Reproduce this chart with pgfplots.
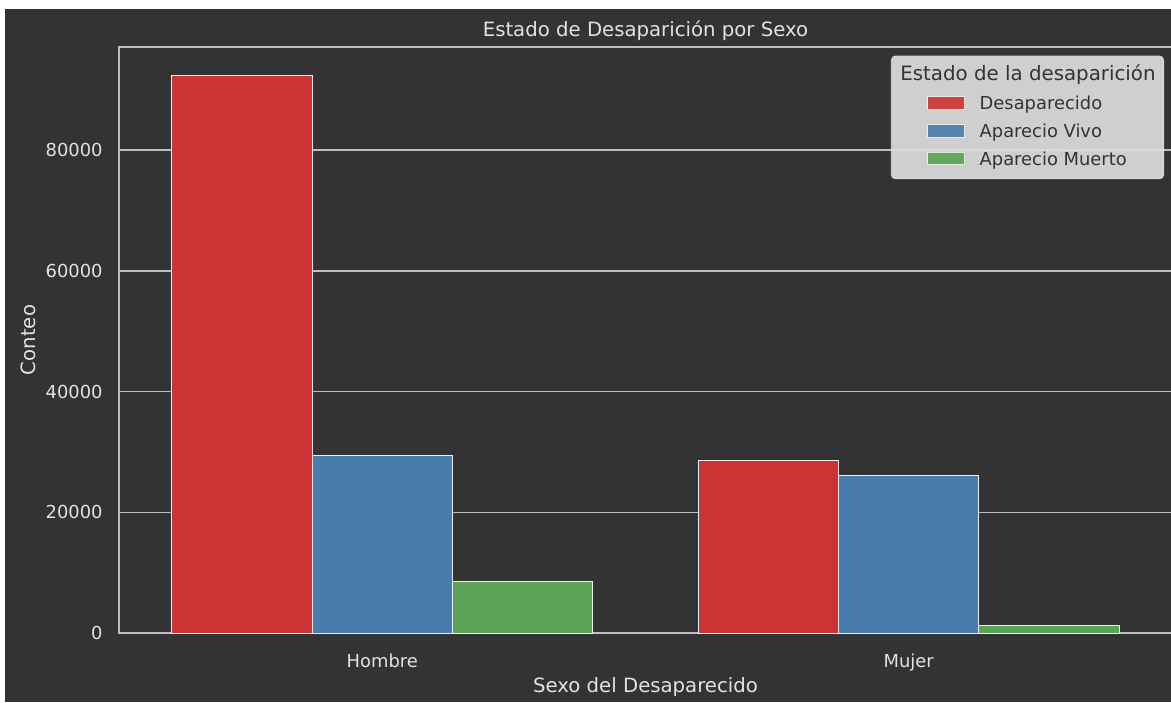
\documentclass[border=0pt]{standalone}
\usepackage{pgfplots}
\pgfplotsset{compat=1.18}
\usepackage{fontspec}
\setmainfont{DejaVu Sans}
\definecolor{bg}{HTML}{333333}
\definecolor{fg}{HTML}{E2E2E2}
\definecolor{gridc}{HTML}{BEBEBE}
\definecolor{edgec}{HTML}{EEEEEE}
\definecolor{cred}{HTML}{CD3334}
\definecolor{cblue}{HTML}{487CAA}
\definecolor{cgreen}{HTML}{5BA457}
\definecolor{legbg}{HTML}{E0E0E0}
\definecolor{legtext}{HTML}{333333}
\pgfplotsset{
  mylegend/.style={legend image code/.code={
    \path (-13.85pt,0pt);
    \draw[##1, draw=edgec, line width=0.5pt, sharp corners] (0pt,-3.175pt) rectangle (18.65pt,3.175pt);
  }}
}
\pgfplotstableread{
x   des     vivo    muerto
0   92400   29400   8500
1   28570   26030   1210
}\datatable
\begin{document}
\begin{tikzpicture}
\fill[white] (0pt,0pt) rectangle (585.5pt,351pt);
\fill[bg] (2.5pt,0pt) rectangle (585.5pt,346.5pt);
\begin{scope}
\clip (2.5pt,0pt) rectangle (585.5pt,346.5pt);
\begin{axis}[
  at={(59.5pt,34.5pt)}, anchor=south west,
  scale only axis, width=526.5pt, height=293pt,
  xmin=-0.5, xmax=1.5, ymin=0, ymax=97100,
  axis line style={gridc, line width=0.8pt},
  ymajorgrids, grid style={gridc, line width=0.8pt},
  major tick length=0pt,
  xtick={0,1}, xticklabels={Hombre,Mujer},
  ytick={0,20000,40000,60000,80000},
  scaled y ticks=false,
  /pgf/number format/1000 sep={},
  /pgf/number format/assume math mode=true,
  tick label style={font=\fontsize{8.95}{10}\selectfont, text=fg},
  yticklabel style={anchor=east, inner sep=0pt, xshift=-8pt},
  xticklabel style={anchor=base, inner sep=0pt, yshift=-17pt},
  every axis title shift=0pt,
  title={Estado de Desaparición por Sexo},
  title style={at={(axis description cs:0.5,1)}, anchor=base, inner sep=0pt, yshift=5.5pt, font=\fontsize{9.85}{12}\selectfont, text=fg},
  xlabel={Sexo del Desaparecido},
  xlabel style={at={(axis description cs:0.5,0)}, anchor=base, inner sep=0pt, yshift=-29.5pt, font=\fontsize{9.85}{12}\selectfont, text=fg},
  ylabel={Conteo},
  ylabel style={at={([xshift=-42pt]axis description cs:0,0.5)}, anchor=base, rotate=0, inner sep=0pt, font=\fontsize{9.85}{12}\selectfont, text=fg},
  legend cell align=left,
  legend style={at={(0.9924,0.9852)}, anchor=north east,
    draw=legbg, fill=legbg, fill opacity=0.9, draw opacity=0.9, text opacity=1,
    rounded corners=2pt, inner xsep=4pt, inner ysep=6.65pt,
    font=\fontsize{8.95}{10}\selectfont, text=legtext,
    /tikz/column sep=7.15pt, /tikz/row sep=7pt,
    nodes={inner sep=0pt, text height=6.5pt, text depth=0pt}},
]
\addlegendimage{empty legend}
\addlegendentry{\hspace*{-39.65pt}\raisebox{1pt}{\fontsize{9.9}{12}\selectfont Estado de la desaparición}}
\addplot[ybar, bar width=0.26667, bar shift=-0.26667, fill=cred, draw=edgec, line width=0.5pt, mylegend] table[x=x, y=des] {\datatable};
\addlegendentry{Desaparecido}
\addplot[ybar, bar width=0.26667, bar shift=0, fill=cblue, draw=edgec, line width=0.5pt, mylegend] table[x=x, y=vivo] {\datatable};
\addlegendentry{Aparecio Vivo}
\addplot[ybar, bar width=0.26667, bar shift=0.26667, fill=cgreen, draw=edgec, line width=0.5pt, mylegend] table[x=x, y=muerto] {\datatable};
\addlegendentry{Aparecio Muerto}
\end{axis}
\end{scope}
\pgfresetboundingbox
\useasboundingbox (0pt,0pt) rectangle (585.5pt,351pt);
\end{tikzpicture}
\end{document}
